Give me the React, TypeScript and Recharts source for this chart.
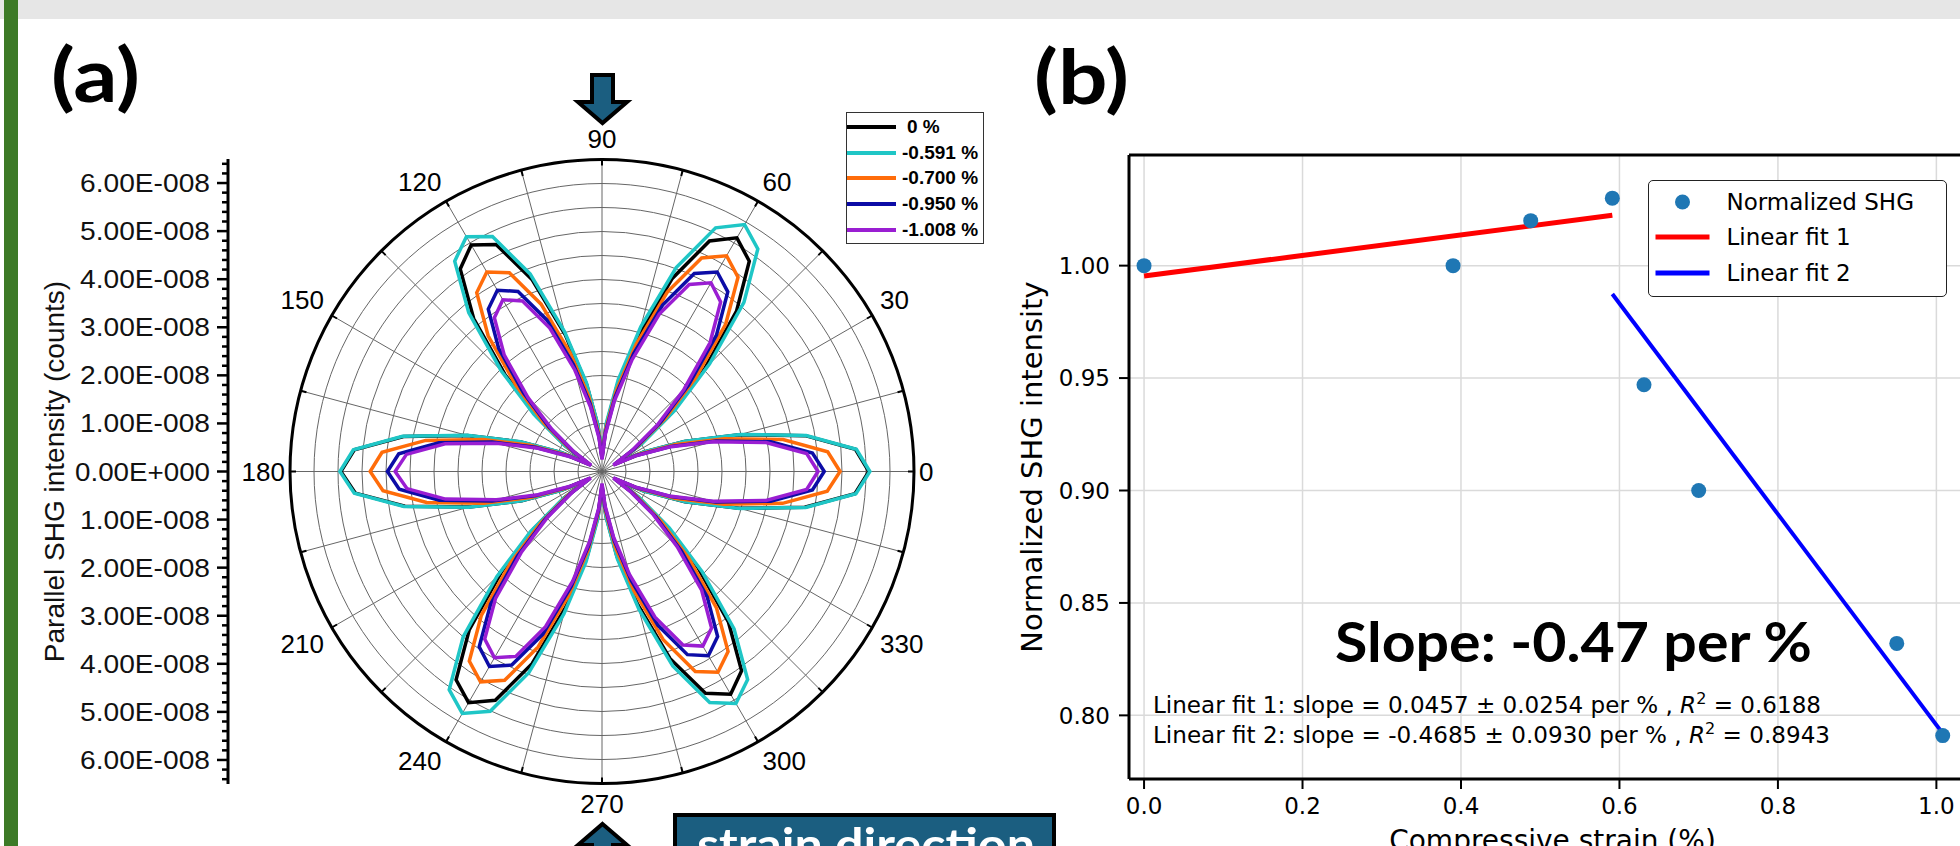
import React from 'react'
import {
  RadarChart,
  Radar,
  PolarGrid,
  PolarAngleAxis,
  PolarRadiusAxis,
  Legend,
  LineChart,
  ComposedChart,
  Line,
  Scatter,
  XAxis,
  YAxis,
  CartesianGrid,
  ReferenceLine,
  Customized,
} from 'recharts'

// ---------- (a) polar plot: parallel SHG intensity, units of 1e-8 counts ----------
const ANGLES = [
  0, 5, 10, 15, 20, 25, 30, 35, 40, 45, 50, 55, 60, 65, 70, 75, 80, 85,
  90, 95, 100, 105, 110, 115, 120, 125, 130, 135, 140, 145, 150, 155, 160, 165, 170, 175,
  180, 185, 190, 195, 200, 205, 210, 215, 220, 225, 230, 235, 240, 245, 250, 255, 260, 265,
  270, 275, 280, 285, 290, 295, 300, 305, 310, 315, 320, 325, 330, 335, 340, 345, 350, 355,
]

const I_0 = [
  5.56, 5.3, 4.3, 2.96, 1.83, 0.95, 0.33, 0.98, 1.88, 3.02, 4.36, 5.35,
  5.62, 5.3, 4.28, 2.93, 1.82, 0.95, 0.32, 0.95, 1.84, 2.94, 4.25, 5.22,
  5.45, 5.15, 4.16, 2.86, 1.77, 0.92, 0.33, 0.93, 1.8, 2.9, 4.2, 5.18,
  5.44, 5.16, 4.17, 2.86, 1.78, 0.92, 0.33, 0.96, 1.85, 2.97, 4.3, 5.3,
  5.56, 5.26, 4.26, 2.93, 1.82, 0.94, 0.33, 0.92, 1.79, 2.86, 4.15, 5.1,
  5.36, 5.07, 4.1, 2.82, 1.76, 0.91, 0.32, 0.95, 1.84, 2.96, 4.29, 5.29,
]
const I_0591 = [
  5.58, 5.32, 4.32, 2.98, 1.85, 0.96, 0.35, 1.02, 1.98, 3.17, 4.6, 5.66,
  5.94, 5.6, 4.52, 3.12, 1.94, 1.0, 0.35, 0.97, 1.88, 3.02, 4.38, 5.4,
  5.65, 5.35, 4.32, 2.97, 1.85, 0.95, 0.34, 0.94, 1.81, 2.91, 4.22, 5.2,
  5.46, 5.18, 4.19, 2.88, 1.79, 0.93, 0.34, 1.0, 1.94, 3.1, 4.5, 5.55,
  5.82, 5.51, 4.46, 3.07, 1.91, 0.98, 0.34, 0.95, 1.85, 2.97, 4.31, 5.31,
  5.58, 5.29, 4.28, 2.95, 1.83, 0.95, 0.33, 0.96, 1.85, 2.97, 4.31, 5.31,
]
const I_0700 = [
  4.96, 4.72, 3.83, 2.64, 1.64, 0.85, 0.31, 0.88, 1.72, 2.76, 4.01, 4.94,
  5.19, 4.91, 3.98, 2.74, 1.7, 0.88, 0.3, 0.82, 1.59, 2.55, 3.71, 4.57,
  4.8, 4.55, 3.69, 2.53, 1.58, 0.81, 0.29, 0.82, 1.6, 2.57, 3.73, 4.6,
  4.83, 4.58, 3.71, 2.55, 1.59, 0.82, 0.3, 0.86, 1.67, 2.69, 3.91, 4.82,
  5.06, 4.8, 3.89, 2.67, 1.66, 0.86, 0.3, 0.82, 1.6, 2.57, 3.73, 4.6,
  4.83, 4.58, 3.71, 2.55, 1.59, 0.82, 0.3, 0.84, 1.64, 2.63, 3.82, 4.71,
]
const I_0950 = [
  4.63, 4.4, 3.57, 2.46, 1.53, 0.79, 0.29, 0.82, 1.59, 2.55, 3.71, 4.57,
  4.8, 4.55, 3.69, 2.54, 1.58, 0.81, 0.27, 0.74, 1.44, 2.31, 3.36, 4.14,
  4.36, 4.13, 3.35, 2.31, 1.44, 0.74, 0.27, 0.76, 1.48, 2.37, 3.45, 4.25,
  4.47, 4.24, 3.44, 2.37, 1.47, 0.76, 0.28, 0.8, 1.55, 2.49, 3.61, 4.46,
  4.69, 4.45, 3.61, 2.48, 1.55, 0.8, 0.27, 0.75, 1.46, 2.35, 3.41, 4.21,
  4.43, 4.2, 3.41, 2.34, 1.46, 0.75, 0.28, 0.79, 1.53, 2.45, 3.57, 4.4,
]
const I_1008 = [
  4.5, 4.28, 3.47, 2.39, 1.49, 0.77, 0.27, 0.77, 1.5, 2.41, 3.5, 4.31,
  4.54, 4.3, 3.49, 2.4, 1.5, 0.77, 0.25, 0.7, 1.36, 2.19, 3.18, 3.92,
  4.13, 3.91, 3.17, 2.18, 1.36, 0.7, 0.26, 0.73, 1.42, 2.28, 3.32, 4.09,
  4.31, 4.08, 3.31, 2.28, 1.42, 0.73, 0.27, 0.76, 1.48, 2.37, 3.45, 4.26,
  4.48, 4.25, 3.44, 2.37, 1.48, 0.76, 0.25, 0.71, 1.39, 2.23, 3.23, 3.99,
  4.2, 3.98, 3.23, 2.22, 1.39, 0.71, 0.27, 0.77, 1.49, 2.39, 3.47, 4.28,
]

const SERIES_A = [
  { key: 's0', name: '0 %', color: '#000000', values: I_0 },
  { key: 's1', name: '-0.591 %', color: '#1fc6c6', values: I_0591 },
  { key: 's2', name: '-0.700 %', color: '#ff6c0a', values: I_0700 },
  { key: 's3', name: '-0.950 %', color: '#0c0ca6', values: I_0950 },
  { key: 's4', name: '-1.008 %', color: '#9a1ed2', values: I_1008 },
]

const RADIAL_MAX = 6.5
const GRID_RINGS = [0.5, 1, 1.5, 2, 2.5, 3, 3.5, 4, 4.5, 5, 5.5, 6]
const GRID_ANGLES = [0, 15, 30, 45, 60, 75, 90, 105, 120, 135, 150, 165, 180, 195, 210, 225, 240, 255, 270, 285, 300, 315, 330, 345]
const LEFT_MAJOR = [-6, -5, -4, -3, -2, -1, 0, 1, 2, 3, 4, 5, 6]

// ---------- (b) normalized SHG vs strain ----------
const STRAIN = [0, 0.39, 0.488, 0.591, 0.631, 0.7, 0.95, 1.008]
const SHG_NORM = [1.0, 1.0, 1.02, 1.03, 0.947, 0.9, 0.832, 0.791]
const FIT1_X = [0, 0.591]
const FIT1_Y = [0.9954, 1.0224]
const FIT2_X = [0.591, 1.008]
const FIT2_Y = [0.9874, 0.792]
const X_TICKS = [0, 0.2, 0.4, 0.6, 0.8, 1.0]
const Y_TICKS = [0.8, 0.85, 0.9, 0.95, 1.0]
const X_DOMAIN: [number, number] = [-0.019, 1.05]
const Y_DOMAIN: [number, number] = [0.7717, 1.0492]

// layout
const CX = 602
const CY = 471.5
const R_OUT = 312
const ANGLE_STEP = 5 // radar places category i one band after its scale position
const LEFT_AXIS_X = 228
const ARIAL = '"Liberation Sans", Arial, sans-serif'
const DEJAVU = '"DejaVu Sans", sans-serif'

const polarData = ANGLES.map((a, i) => {
  const row: Record<string, number> = { angle: a }
  SERIES_A.forEach((s) => (row[s.key] = s.values[i]))
  return row
})

const leftTicks = Array.from({ length: 65 }, (_, i) => Math.round((i - 32) * 2) / 10)

const scatterData = STRAIN.map((x, i) => ({ x, y: SHG_NORM[i] }))
const fit1Data = FIT1_X.map((x, i) => ({ x, y: FIT1_Y[i] }))
const fit2Data = FIT2_X.map((x, i) => ({ x, y: FIT2_Y[i] }))

const sgn = (v: number) => (Math.abs(v) < 1e-6 ? 0 : Math.sign(v))

const AngleTick = (props: any) => {
  const deg = Number(props.payload?.value)
  if (deg % 15 !== 0) return <g />
  const rad = (deg * Math.PI) / 180
  const c = Math.cos(rad)
  const s = Math.sin(rad)
  const tick = (
    <line
      x1={CX + (R_OUT - 6) * c}
      y1={CY - (R_OUT - 6) * s}
      x2={CX + R_OUT * c}
      y2={CY - R_OUT * s}
      stroke="#000"
      strokeWidth={2}
    />
  )
  if (deg % 30 !== 0) return tick
  const label = String(deg)
  const w = label.length * 14.5
  const base = sgn(s) === 0 ? 317 : 321
  const x = CX + base * c + (sgn(c) * w) / 2
  const y = CY - base * s - sgn(s) * 11.5
  return (
    <g>
      {tick}
      <text x={x} y={y} textAnchor="middle" dominantBaseline="central" fontSize={26} fontFamily={ARIAL} fill="#000">
        {label}
      </text>
    </g>
  )
}

const LeftTick = (props: any) => {
  const { y, payload } = props
  const v = Number(payload.value)
  const major = LEFT_MAJOR.some((m) => Math.abs(m - v) < 1e-6)
  const len = major ? 11 : 6
  return (
    <g>
      <line x1={LEFT_AXIS_X - len} x2={LEFT_AXIS_X} y1={y} y2={y} stroke="#000" strokeWidth={2.5} />
      {major && (
        <text
          x={210}
          y={y + 9}
          textAnchor="end"
          fontSize={26}
          fontFamily={ARIAL}
          fill="#111"
          textLength={v === 0 ? 135 : 130}
          lengthAdjust="spacingAndGlyphs"
        >
          {v === 0 ? '0.00E+000' : `${Math.abs(v)}.00E-008`}
        </text>
      )}
    </g>
  )
}

const PolarLegend = (props: any) => {
  const payload = props.payload || []
  return (
    <div
      style={{
        width: 138,
        height: 132,
        boxSizing: 'border-box',
        border: '1.5px solid #333',
        background: '#fff',
        paddingTop: 1,
      }}
    >
      {SERIES_A.map((s) => {
        const entry = payload.find((p: any) => p.value === s.name)
        return (
          <div key={s.key} style={{ display: 'flex', alignItems: 'center', height: 25.8 }}>
            <svg width={49} height={10} style={{ display: 'block' }}>
              <line x1={0} x2={49} y1={5} y2={5} stroke={entry?.color ?? s.color} strokeWidth={4} />
            </svg>
            <span
              style={{
                fontFamily: ARIAL,
                fontWeight: 700,
                fontSize: 19,
                marginLeft: s.name === '0 %' ? 11 : 6,
                color: '#000',
                whiteSpace: 'nowrap',
              }}
            >
              {s.name}
            </span>
          </div>
        )
      })}
    </div>
  )
}

const LEGEND_B = [
  { name: 'Normalized SHG', kind: 'dot', color: '#1f77b4' },
  { name: 'Linear fit 1', kind: 'line', color: '#ff0000' },
  { name: 'Linear fit 2', kind: 'line', color: '#0000ff' },
]

const FitLegend = () => (
  <div
    style={{
      width: 299,
      height: 117,
      boxSizing: 'border-box',
      border: '1.5px solid #222',
      borderRadius: 5,
      background: '#fff',
      paddingTop: 2.75,
    }}
  >
    {LEGEND_B.map((e) => (
      <div key={e.name} style={{ display: 'flex', alignItems: 'center', height: 35.5 }}>
        <svg width={70} height={20} style={{ display: 'block' }}>
          {e.kind === 'dot' ? (
            <circle cx={33.5} cy={10} r={7.5} fill={e.color} />
          ) : (
            <line x1={6.5} x2={60.5} y1={10} y2={10} stroke={e.color} strokeWidth={5} />
          )}
        </svg>
        <span style={{ fontFamily: DEJAVU, fontSize: 23, marginLeft: 7.5, color: '#000', whiteSpace: 'nowrap' }}>
          {e.name}
        </span>
      </div>
    ))}
  </div>
)

const FitNotes = () => (
  <g fill="#000">
    <text
      x={335}
      y={662}
      fontFamily="Lato, sans-serif"
      fontWeight={700}
      fontSize={56}
      textLength={477}
      lengthAdjust="spacingAndGlyphs"
    >
      Slope: -0.47 per %
    </text>
    <text x={153} y={713} fontFamily={DEJAVU} fontSize={23} textLength={668} lengthAdjust="spacingAndGlyphs">
      {'Linear fit 1: slope = 0.0457 ± 0.0254 per % , '}
      <tspan fontStyle="italic">R</tspan>
      <tspan dy={-9} fontSize={16}>2</tspan>
      <tspan dy={9}>{' = 0.6188'}</tspan>
    </text>
    <text x={153} y={743} fontFamily={DEJAVU} fontSize={23} textLength={677} lengthAdjust="spacingAndGlyphs">
      {'Linear fit 2: slope = -0.4685 ± 0.0930 per % , '}
      <tspan fontStyle="italic">R</tspan>
      <tspan dy={-9} fontSize={16}>2</tspan>
      <tspan dy={9}>{' = 0.8943'}</tspan>
    </text>
  </g>
)

function LeftAxisA() {
  return (
    <LineChart width={240} height={846} margin={{ top: 159, right: 2, bottom: 62, left: 0 }} data={[{ x: 0 }]}>
      <XAxis dataKey="x" hide />
      <YAxis
        type="number"
        domain={[-RADIAL_MAX, RADIAL_MAX]}
        ticks={leftTicks}
        interval={0}
        allowDataOverflow
        width={LEFT_AXIS_X}
        tick={LeftTick}
        tickLine={false}
        axisLine={{ stroke: '#000', strokeWidth: 3 }}
        label={{
          value: 'Parallel SHG intensity (counts)',
          angle: -90,
          position: 'insideLeft',
          offset: 54,
          fontSize: 28,
          fontFamily: ARIAL,
          fill: '#111',
          style: { textAnchor: 'middle' },
        }}
      />
    </LineChart>
  )
}

function PolarA() {
  return (
    <RadarChart
      width={1000}
      height={846}
      cx={CX}
      cy={CY}
      innerRadius={0}
      outerRadius={R_OUT}
      startAngle={-ANGLE_STEP}
      endAngle={360 - ANGLE_STEP}
      data={polarData}
      margin={{ top: 0, right: 0, bottom: 0, left: 0 }}
    >
      <PolarGrid
        gridType="circle"
        polarAngles={GRID_ANGLES}
        polarRadius={GRID_RINGS.map((v) => (v / RADIAL_MAX) * R_OUT)}
        stroke="#666"
        strokeWidth={1}
      />
      <PolarAngleAxis
        dataKey="angle"
        tick={AngleTick}
        tickLine={false}
        axisLineType="circle"
        axisLine={{ stroke: '#000', strokeWidth: 3 }}
      />
      <PolarRadiusAxis
        type="number"
        domain={[0, RADIAL_MAX]}
        allowDataOverflow
        allowDecimals
        tickCount={14}
        tick={false}
        axisLine={false}
      />
      {SERIES_A.map((s) => (
        <Radar
          key={s.key}
          dataKey={s.key}
          name={s.name}
          stroke={s.color}
          strokeWidth={3.5}
          fill="none"
          fillOpacity={0}
          dot={false}
          legendType="line"
          isAnimationActive={false}
        />
      ))}
      <Legend
        layout="horizontal"
        verticalAlign="middle"
        align="center"
        content={PolarLegend}
        wrapperStyle={{ position: 'absolute', left: 846, top: 112, width: 138, height: 132 }}
      />
    </RadarChart>
  )
}

function StrainChartB() {
  return (
    <ComposedChart width={990} height={846} margin={{ top: 155, right: 14, bottom: 7, left: 0 }}>
      <CartesianGrid stroke="#dadada" strokeWidth={1.5} />
      <XAxis
        type="number"
        dataKey="x"
        domain={X_DOMAIN}
        ticks={X_TICKS}
        interval={0}
        allowDataOverflow
        height={60}
        tickSize={10}
        tickMargin={9}
        tickFormatter={(v: number) => v.toFixed(1)}
        axisLine={{ stroke: '#000', strokeWidth: 3 }}
        tickLine={{ stroke: '#000', strokeWidth: 2 }}
        tick={{ fontSize: 23, fontFamily: DEJAVU, fill: '#000' }}
        label={{ value: 'Compressive strain (%)', position: 'bottom', offset: -9, fontSize: 28, fontFamily: DEJAVU, fill: '#000' }}
      />
      <YAxis
        type="number"
        dataKey="y"
        domain={Y_DOMAIN}
        ticks={Y_TICKS}
        interval={0}
        allowDataOverflow
        width={129}
        tickSize={10}
        tickMargin={9}
        tickFormatter={(v: number) => v.toFixed(2)}
        axisLine={{ stroke: '#000', strokeWidth: 3 }}
        tickLine={{ stroke: '#000', strokeWidth: 2 }}
        tick={{ fontSize: 23, fontFamily: DEJAVU, fill: '#000' }}
        label={{
          value: 'Normalized SHG intensity',
          angle: -90,
          position: 'insideLeft',
          offset: 32,
          fontSize: 29,
          fontFamily: DEJAVU,
          fill: '#000',
          style: { textAnchor: 'middle' },
        }}
      />
      <ReferenceLine y={Y_DOMAIN[1]} stroke="#000" strokeWidth={3} />
      <Line data={fit1Data} dataKey="y" name="Linear fit 1" stroke="#ff0000" strokeWidth={5} dot={false} isAnimationActive={false} />
      <Line data={fit2Data} dataKey="y" name="Linear fit 2" stroke="#0000ff" strokeWidth={4} dot={false} isAnimationActive={false} />
      <Scatter
        data={scatterData}
        dataKey="y"
        name="Normalized SHG"
        fill="#1f77b4"
        isAnimationActive={false}
        shape={(p: any) => <circle cx={p.cx} cy={p.cy} r={7.5} fill="#1f77b4" />}
      />
      <Customized component={FitNotes} />
      <Legend
        layout="horizontal"
        verticalAlign="middle"
        align="center"
        content={FitLegend}
        wrapperStyle={{ position: 'absolute', left: 648, top: 180, width: 299, height: 117 }}
      />
    </ComposedChart>
  )
}

function Decorations() {
  return (
    <svg width={1960} height={846} style={{ position: 'absolute', left: 0, top: 0, pointerEvents: 'none' }}>
      <rect x={0} y={0} width={1960} height={19} fill="#e6e6e6" />
      <rect x={4} y={0} width={14} height={846} fill="#3d7a27" />
      <text x={51} y={101.5} fontFamily="Lato, sans-serif" fontWeight={700} fontSize={74} textLength={89} lengthAdjust="spacingAndGlyphs">
        (a)
      </text>
      <text x={1034} y={104} fontFamily="Lato, sans-serif" fontWeight={700} fontSize={74} textLength={95} lengthAdjust="spacingAndGlyphs">
        (b)
      </text>
      <polygon
        points="592,75 613,75 613,102 627,102 602.5,123 578,102 592,102"
        fill="#1b5e80"
        stroke="#000"
        strokeWidth={4}
      />
      <polygon
        points="602.5,824 627,845 613,845 613,870 592,870 592,845 578,845"
        fill="#1b5e80"
        stroke="#000"
        strokeWidth={4}
      />
      <rect x={675} y={815} width={379} height={60} fill="#1b5e80" stroke="#000" strokeWidth={4} />
      <text x={697} y={861} fill="#fff" fontFamily="Lato, sans-serif" fontWeight={700} fontSize={46} textLength={338} lengthAdjust="spacingAndGlyphs">
        strain direction
      </text>
    </svg>
  )
}

export default function App() {
  return (
    <div style={{ position: 'absolute', left: 0, top: 0, width: 1960, height: 846, overflow: 'hidden', background: '#fff' }}>
      <div style={{ position: 'absolute', left: 0, top: 0 }}>
        <LeftAxisA />
      </div>
      <div style={{ position: 'absolute', left: 0, top: 0 }}>
        <PolarA />
      </div>
      <div style={{ position: 'absolute', left: 1000, top: 0 }}>
        <StrainChartB />
      </div>
      <Decorations />
    </div>
  )
}
